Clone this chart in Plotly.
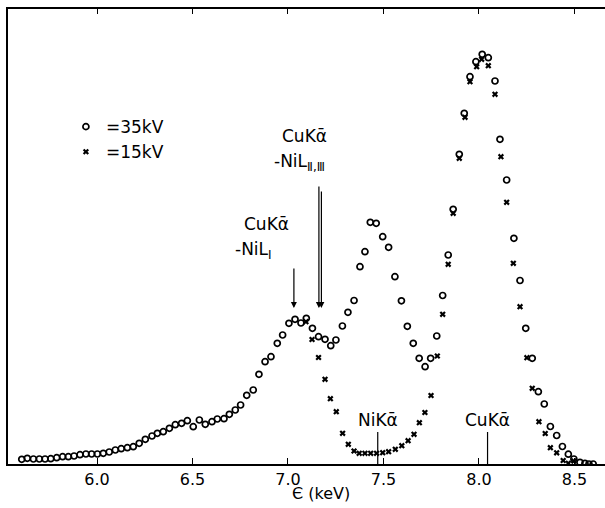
import plotly.graph_objects as go

# 35 kV series (open circles): energy (keV) and intensity (arb. units)
e35 = [5.606, 5.635, 5.667, 5.698, 5.728, 5.758, 5.789, 5.820, 5.850, 5.880,
       5.911, 5.942, 5.972, 6.002, 6.033, 6.064, 6.096, 6.127, 6.159, 6.190,
       6.221, 6.253, 6.288, 6.316, 6.347, 6.379, 6.410, 6.443, 6.473, 6.504,
       6.536, 6.567, 6.602, 6.630, 6.665, 6.693, 6.724, 6.752, 6.784, 6.818,
       6.848, 6.880, 6.911, 6.944, 6.972, 7.005, 7.037, 7.068, 7.096, 7.128,
       7.160, 7.194, 7.224, 7.251, 7.285, 7.314, 7.346, 7.377, 7.403, 7.431,
       7.462, 7.496, 7.527, 7.560, 7.594, 7.625, 7.656, 7.687, 7.718, 7.747,
       7.779, 7.810, 7.839, 7.865, 7.897, 7.923, 7.953, 7.984, 8.017, 8.049,
       8.084, 8.110, 8.145, 8.183, 8.215, 8.245, 8.279, 8.311, 8.342, 8.374,
       8.407, 8.437, 8.468, 8.497, 8.529, 8.555, 8.576, 8.598]
i35 = [4.7, 5.7, 5.0, 5.0, 5.0, 5.3, 6.3, 7.3, 7.3, 8.0,
       9.3, 10.0, 10.0, 10.0, 10.7, 12.0, 14.0, 15.3, 16.3, 17.3,
       20.7, 24.7, 28.0, 30.7, 32.3, 35.7, 39.3, 40.7, 43.3, 37.3,
       44.0, 39.7, 42.3, 45.0, 45.3, 49.7, 54.0, 59.0, 68.7, 74.0,
       89.7, 102.3, 107.3, 120.7, 129.0, 140.7, 144.7, 141.0, 145.7, 135.7,
       127.3, 124.7, 118.3, 124.0, 138.0, 151.7, 163.5, 197.3, 212.3, 241.7,
       240.7, 227.3, 216.7, 187.3, 163.2, 137.7, 120.7, 105.7, 97.3, 105.7,
       128.0, 168.5, 209.0, 254.7, 309.7, 350.7, 387.3, 402.3, 409.7, 406.3,
       383.0, 324.7, 284.0, 225.7, 183.5, 135.7, 105.7, 72.3, 60.0, 37.5,
       28.5, 17.5, 9.8, 5.0, 1.7, 0.7, 0.0, 0.0]

# 15 kV series (crosses)
e15 = [7.094, 7.126, 7.160, 7.194, 7.222, 7.253, 7.286, 7.316, 7.346, 7.373,
       7.403, 7.433, 7.464, 7.496, 7.527, 7.562, 7.596, 7.629, 7.660, 7.688,
       7.717, 7.749, 7.782, 7.810, 7.839, 7.865, 7.897, 7.927, 7.953, 7.988,
       8.014, 8.049, 8.084, 8.115, 8.145, 8.180, 8.215, 8.251, 8.279, 8.314,
       8.347, 8.374, 8.407, 8.441, 8.468, 8.497]
i15 = [142.3, 124.5, 106.5, 84.7, 65.3, 52.3, 30.7, 19.7, 13.0, 10.7,
       10.7, 10.7, 10.7, 11.3, 12.3, 14.7, 18.3, 23.3, 29.7, 41.3,
       51.5, 68.5, 108.0, 149.7, 199.7, 250.7, 305.7, 346.7, 382.3, 397.3,
       404.7, 398.3, 369.7, 307.3, 261.7, 200.7, 157.3, 106.3, 75.7, 42.3,
       30.5, 16.3, 11.2, 3.5, 0.7, 3.0]

# axis ticks (bottom labelled, top unlabelled at the same energies)
x_ticks = [6.0, 6.5, 7.0, 7.5, 8.0, 8.5]
x_ticktext = ["6.0", "6.5", "7.0", "7.5", "8.0", "8.5"]

# reference line energies
ni_ka = 7.47
cu_ka = 8.045

FONT = "DejaVu Sans"

fig = go.Figure()
fig.add_trace(go.Scatter(
    x=e35, y=i35, mode="markers", name="=35kV",
    marker=dict(symbol="circle-open", size=6, color="black",
                line=dict(width=1.7, color="black"))))
fig.add_trace(go.Scatter(
    x=e15, y=i15, mode="markers", name="=15kV",
    marker=dict(symbol="x", size=5.5, color="black",
                line=dict(width=0))))
# invisible trace to carry the top axis
fig.add_trace(go.Scatter(x=[x_ticks[0]], y=[0], xaxis="x2", mode="markers",
                         marker=dict(opacity=0), showlegend=False,
                         hoverinfo="skip"))

xr = [5.534, 8.66]
fig.update_layout(
    width=605, height=508,
    margin=dict(l=8, r=0, t=9, b=44),
    paper_bgcolor="white", plot_bgcolor="white",
    font=dict(family=FONT, size=16, color="black"),
    showlegend=True,
    legend=dict(x=0.097, y=0.78, xanchor="left", yanchor="top",
                font=dict(family=FONT, size=17, color="black"),
                bgcolor="rgba(0,0,0,0)", tracegroupgap=0, itemwidth=30),
    xaxis=dict(range=xr, tickvals=x_ticks, ticktext=x_ticktext,
               ticks="inside", ticklen=6, tickwidth=1.2, tickcolor="black",
               showline=True, linecolor="black", linewidth=1.6,
               showgrid=False, zeroline=False,
               tickfont=dict(family=FONT, size=16, color="black")),
    xaxis2=dict(range=xr, overlaying="x", side="top", anchor="y",
                tickvals=x_ticks, showticklabels=False,
                ticks="inside", ticklen=5, tickwidth=1.2, tickcolor="black",
                showline=True, linecolor="black", linewidth=1.6,
                showgrid=False, zeroline=False),
    yaxis=dict(range=[0, 455], showline=True, linecolor="black",
               linewidth=1.6, showticklabels=False, ticks="",
               showgrid=False, zeroline=False),
)

# reference lines for NiK alpha and CuK alpha
for e in (ni_ka, cu_ka):
    fig.add_shape(type="line", x0=e, x1=e, y0=0, y1=32, xref="x", yref="y",
                  line=dict(color="black", width=1.2))

ann_font = dict(family=FONT, size=17, color="black")
fig.add_annotation(x=ni_ka, y=44, text="NiKᾱ", showarrow=False,
                   xanchor="center", yanchor="middle", font=ann_font)
fig.add_annotation(x=cu_ka, y=44, text="CuKᾱ", showarrow=False,
                   xanchor="center", yanchor="middle", font=ann_font)

# labels with arrows
fig.add_annotation(x=6.759, y=240, text="CuKᾱ", showarrow=False,
                   xanchor="left", yanchor="middle", font=ann_font)
fig.add_annotation(x=6.712, y=214, text="-NiL<sub>Ⅰ</sub>", showarrow=False,
                   xanchor="left", yanchor="middle", font=ann_font)
fig.add_annotation(x=6.958, y=328, text="CuKᾱ", showarrow=False,
                   xanchor="left", yanchor="middle", font=ann_font)
fig.add_annotation(x=6.916, y=302, text="-NiL<sub>Ⅱ,Ⅲ</sub>",
                   showarrow=False, xanchor="left", yanchor="middle",
                   font=ann_font)

for (xa, ytail) in [(7.031, 197), (7.162, 279), (7.175, 274)]:
    fig.add_annotation(x=xa, y=156, ax=xa, ay=ytail, axref="x", ayref="y",
                       xref="x", yref="y", text="", showarrow=True,
                       arrowhead=2, arrowsize=1, arrowwidth=1.2,
                       arrowcolor="black")

# axis title
fig.add_annotation(x=7.173, y=-0.064, xref="x", yref="paper",
                   text="Є (keV)", showarrow=False, xanchor="center",
                   yanchor="middle", font=dict(family=FONT, size=16,
                                               color="black"))

fig.write_html("out.html",
               config={"displayModeBar": False},
               post_script="document.body.style.margin='0px';"
                           "document.body.style.overflow='hidden';")
